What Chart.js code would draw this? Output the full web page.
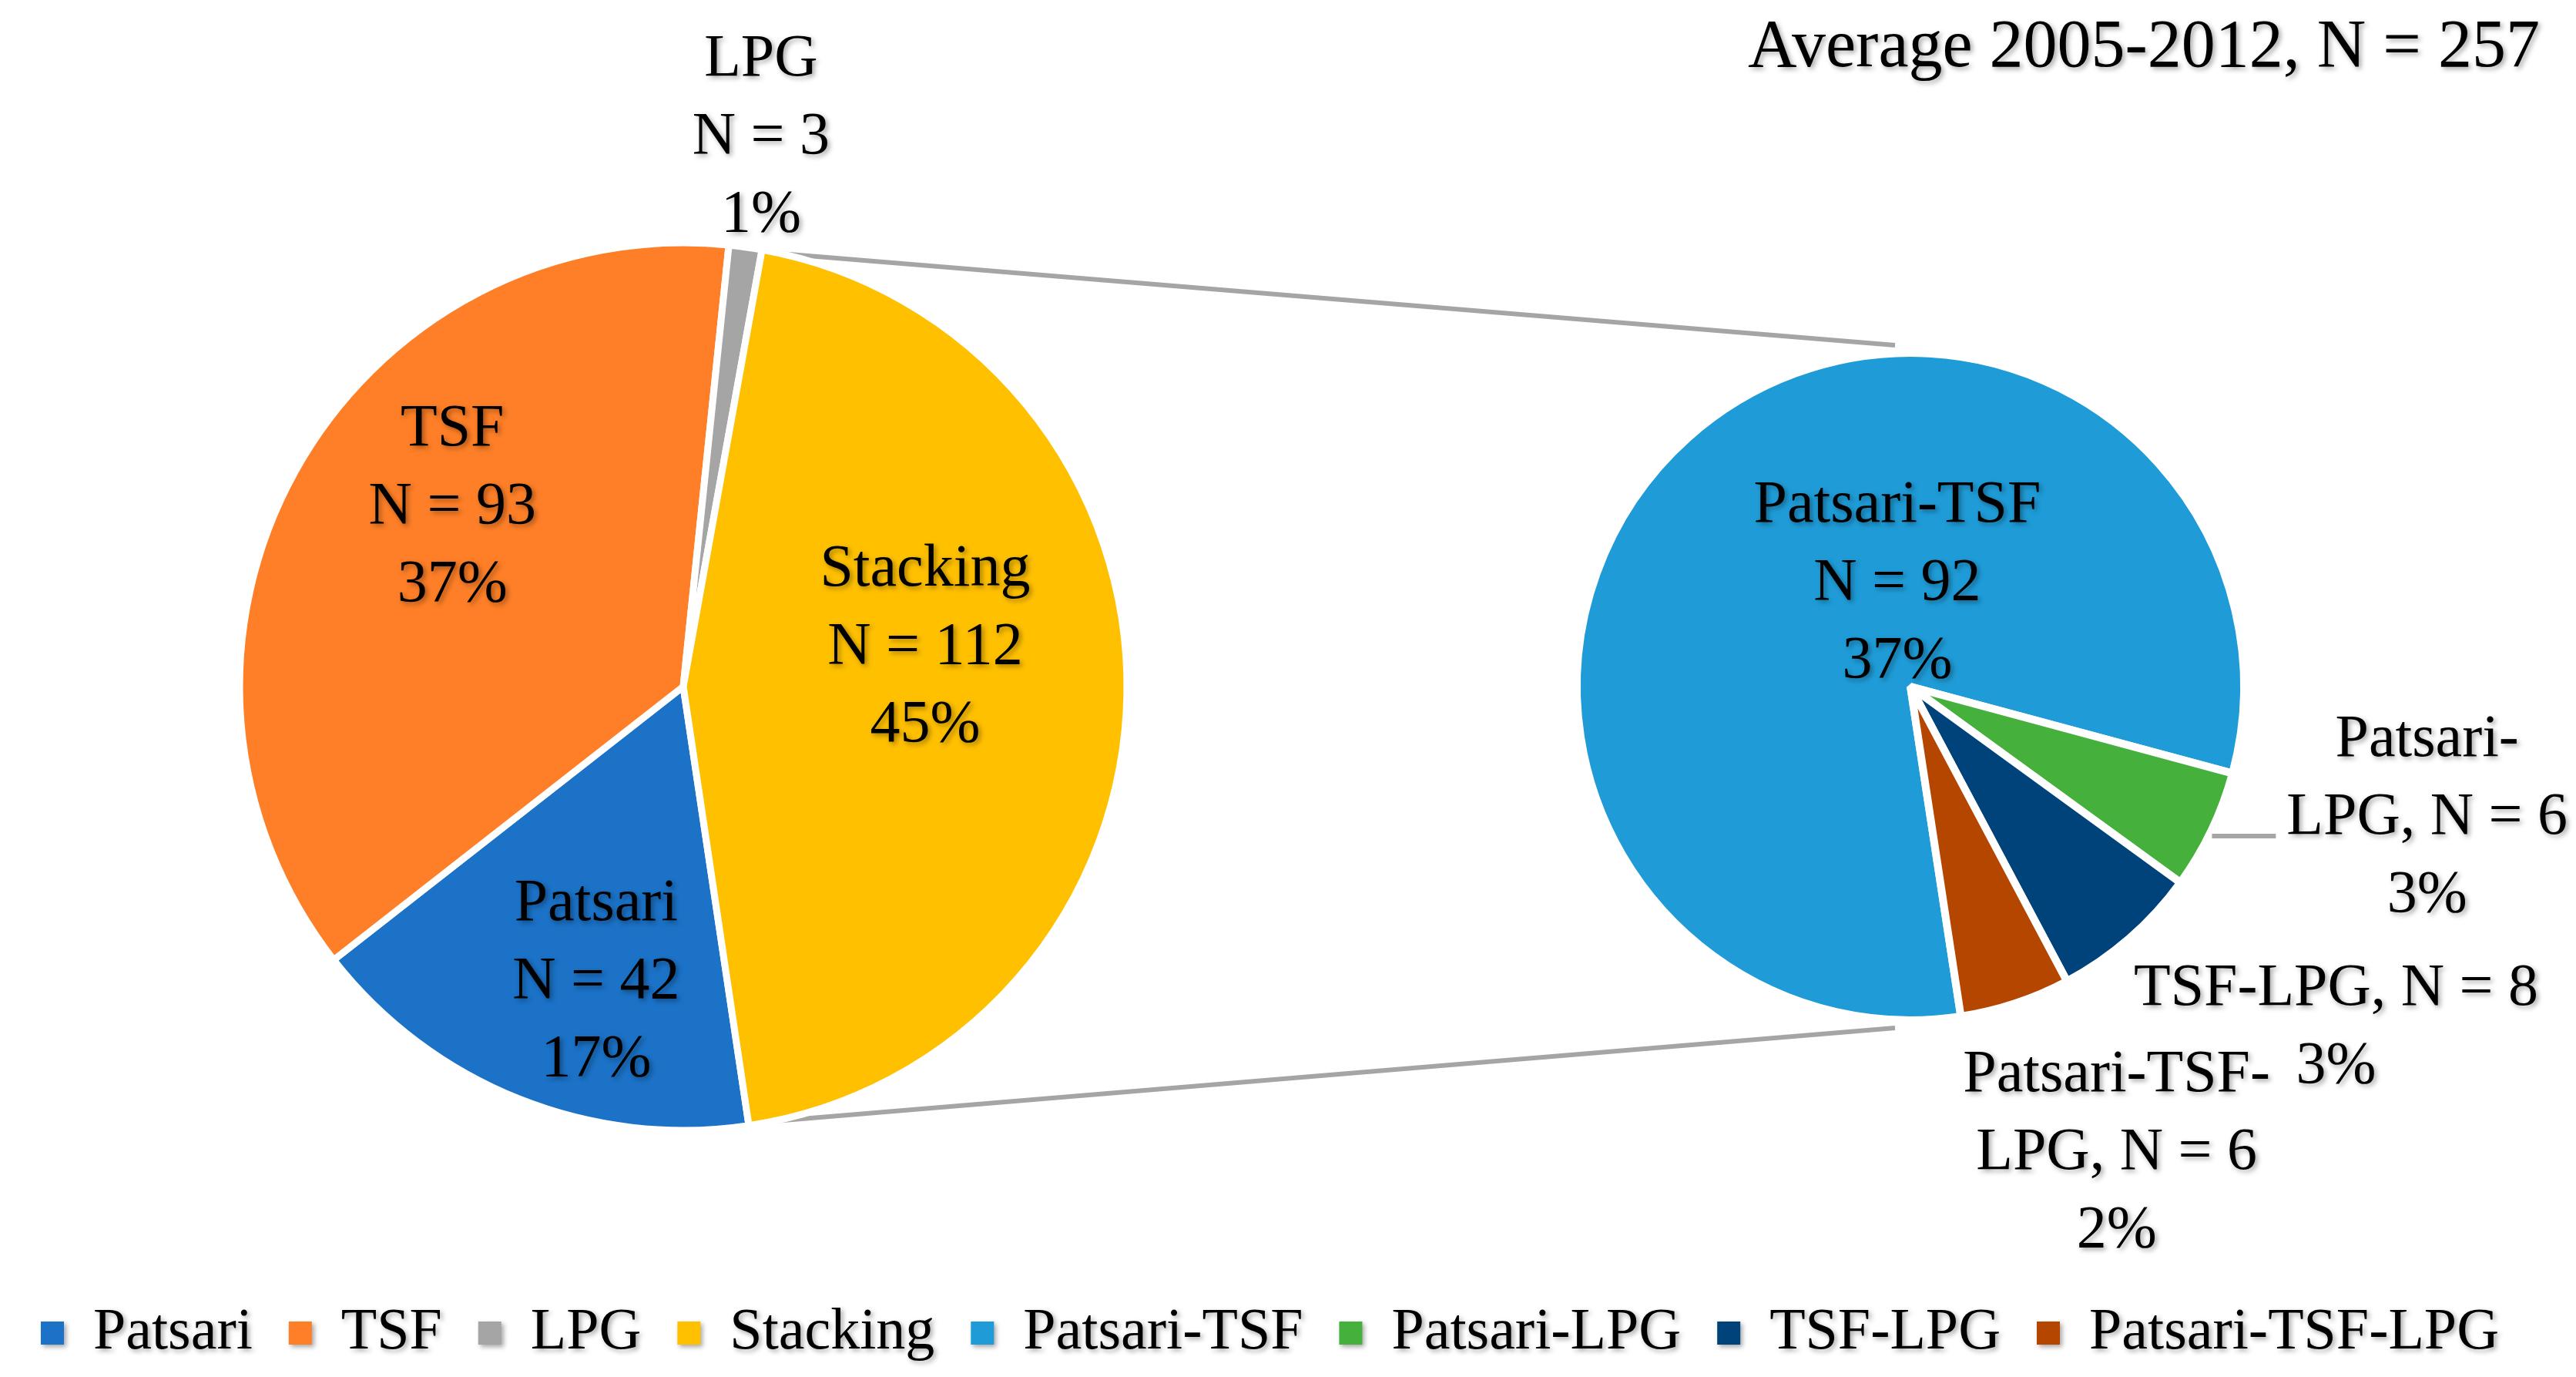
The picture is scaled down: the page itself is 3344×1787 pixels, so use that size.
<!DOCTYPE html>
<html>
<head>
<meta charset="utf-8">
<title>Average 2005-2012, N = 257</title>
<script src="https://cdn.jsdelivr.net/npm/chart.js@4.4.1/dist/chart.umd.min.js"></script>
<style>
    html, body { margin: 0; padding: 0; background: #fff; }
    #wrap { position: relative; width: 3344px; height: 1787px; overflow: hidden; }
    #wrap canvas { position: absolute; left: 0; top: 0; }
</style>
</head>
<body>
<div id="wrap">
    <canvas id="frameChart" width="3344" height="1787"></canvas>
    <canvas id="primaryChart" width="3344" height="1787"></canvas>
    <canvas id="secondaryChart" width="3344" height="1787"></canvas>
</div>
<script>
/**
 * Pie of pie: stove use, average 2005-2012
 */

// Data
const chartTitle = 'Average 2005-2012, N = 257';

const primaryLabels = ['Patsari', 'TSF', 'LPG', 'Stacking'];
const primaryValues = [42, 93, 3, 112];
const primaryPercents = ['17%', '37%', '1%', '45%'];

const secondaryLabels = ['Patsari-TSF', 'Patsari-LPG', 'TSF-LPG', 'Patsari-TSF-LPG'];
const secondaryValues = [91.4, 6.5, 8.1, 6.0];   // slice sizes
const secondaryCounts = [92, 6, 8, 6];
const secondaryPercents = ['37%', '3%', '3%', '2%'];

// Colours
const primaryColors = ['#1B72C7', '#FE7F27', '#A5A5A5', '#FFC000'];
const secondaryColors = ['#1F9CD8', '#45B03B', '#00437A', '#B54600'];
const connectorColor = '#A5A5A5';

// Label placement: angle shift from the slice middle (degrees) and distance (x outer radius)
const primaryPlacement = [
    { shift: -5.3, dist: 0.694 },
    { shift: 8.9, dist: 0.659 },
    { shift: 0, dist: 1.249 },
    { shift: -10, dist: 0.552 }
];
const secondaryPlacement = [
    { shift: 34.5, dist: 0.31 },
    { shift: -11.3, dist: 1.598, leader: true },
    { shift: -10.3, dist: 1.635 },
    { shift: -5.5, dist: 1.529 }
];

const FONT = '"Liberation Serif", "Times New Roman", serif';
Chart.defaults.font.family = FONT;
Chart.defaults.color = '#000';

function setShadow(ctx) {
    ctx.shadowColor = 'rgba(0, 0, 0, 0.35)';
    ctx.shadowBlur = 6;
    ctx.shadowOffsetX = 3;
    ctx.shadowOffsetY = 3;
}

function primaryLines(i) {
    return [primaryLabels[i], 'N = ' + primaryValues[i], primaryPercents[i]];
}

function secondaryLines(i, ctx, place) {
    const nText = 'N = ' + secondaryCounts[i];
    if (place.dist < 1) return [secondaryLabels[i], nText, secondaryPercents[i]];
    // outside labels: one line if it fits, otherwise break after the last hyphen
    const text = secondaryLabels[i] + ', ' + nText;
    if (ctx.measureText(text).width <= 560) return [text, secondaryPercents[i]];
    const cut = secondaryLabels[i].lastIndexOf('-') + 1;
    return [text.slice(0, cut), text.slice(cut), secondaryPercents[i]];
}

// Slice labels
const sliceLabels = {
    id: 'sliceLabels',
    afterDatasetsDraw(chart, args, opts) {
        const ctx = chart.ctx;
        const arcs = chart.getDatasetMeta(0).data;
        const bw = chart.data.datasets[0].borderWidth;
        ctx.save();
        ctx.font = opts.fontSize + 'px ' + FONT;
        ctx.fillStyle = '#000';
        ctx.textAlign = 'center';
        ctx.textBaseline = 'middle';
        arcs.forEach((arc, i) => {
            const place = opts.placement[i];
            const lines = opts.lines(i, ctx, place);
            const mid = (arc.startAngle + arc.endAngle) / 2 + place.shift * Math.PI / 180;
            const px = arc.x + Math.cos(mid) * arc.outerRadius * place.dist;
            const py = arc.y + Math.sin(mid) * arc.outerRadius * place.dist;
            const top = py - (lines.length - 1) / 2 * opts.lineHeight;

            if (place.leader) {
                // short leader line from the slice edge to the second text line
                const ly = top + opts.lineHeight + 24;
                const r = arc.outerRadius - bw / 2;
                const dy = ly - arc.y;
                const x0 = arc.x + Math.sqrt(Math.max(r * r - dy * dy, 0)) + 10;
                const x1 = px - ctx.measureText(lines[1]).width / 2 - 14;
                ctx.strokeStyle = connectorColor;
                ctx.lineWidth = 6;
                ctx.beginPath();
                ctx.moveTo(x0, ly);
                ctx.lineTo(x1, ly);
                ctx.stroke();
            }

            ctx.save();
            setShadow(ctx);
            lines.forEach((t, k) => ctx.fillText(t, px, top + k * opts.lineHeight));
            ctx.restore();
        });
        ctx.restore();
    }
};

// Lines joining the Stacking slice with the second pie, plus text shadow for title/legend
const connectors = {
    id: 'connectors',
    beforeDraw(chart) {
        const ctx = chart.ctx;
        const src = primaryChart.getDatasetMeta(0).data[primaryLabels.indexOf('Stacking')];
        const dst = secondaryChart.getDatasetMeta(0).data[0];
        const r1 = src.outerRadius - 4;
        const ends = [
            [src.startAngle, dst.y - dst.outerRadius - 10],
            [src.endAngle, dst.y + dst.outerRadius + 10]
        ];
        ctx.save();
        ctx.strokeStyle = connectorColor;
        ctx.lineWidth = 6;
        ends.forEach(([angle, yEnd]) => {
            ctx.beginPath();
            ctx.moveTo(src.x + Math.cos(angle) * r1 + 12, src.y + Math.sin(angle) * r1);
            ctx.lineTo(dst.x - 20, yEnd);
            ctx.stroke();
        });
        ctx.restore();

        ctx.save();
        setShadow(ctx);
    },
    afterDraw(chart) {
        chart.ctx.restore();
    }
};

function pieOptions(rotation, radius, padding, placement, lines) {
    return {
        responsive: false,
        animation: false,
        events: [],
        devicePixelRatio: 1,
        rotation: rotation,
        radius: radius,
        layout: { padding: padding },
        plugins: {
            legend: { display: false },
            tooltip: { enabled: false },
            title: { display: false },
            sliceLabels: {
                fontSize: 78,
                lineHeight: 101,
                placement: placement,
                lines: lines
            }
        }
    };
}

// Left pie
const primaryChart = new Chart(document.getElementById('primaryChart'), {
    type: 'pie',
    data: {
        labels: primaryLabels,
        datasets: [{
            data: primaryValues,
            backgroundColor: primaryColors,
            borderColor: '#ffffff',
            borderWidth: 9
        }]
    },
    options: pieOptions(171.5, 576, { left: 0, right: 1570, top: 0, bottom: 5 }, primaryPlacement, primaryLines),
    plugins: [sliceLabels]
});

// Right pie (breakdown of Stacking)
const secondaryChart = new Chart(document.getElementById('secondaryChart'), {
    type: 'pie',
    data: {
        labels: secondaryLabels,
        datasets: [{
            data: secondaryValues,
            backgroundColor: secondaryColors,
            borderColor: '#ffffff',
            borderWidth: 10
        }]
    },
    options: pieOptions(171.3, 433, { left: 1616, right: 0, top: 0, bottom: 5 }, secondaryPlacement, secondaryLines),
    plugins: [sliceLabels]
});

// Frame: title, legend and connector lines
const legendLabels = primaryLabels.concat(secondaryLabels);
const legendColors = primaryColors.concat(secondaryColors);

const frameChart = new Chart(document.getElementById('frameChart'), {
    type: 'pie',
    data: { labels: legendLabels, datasets: [] },
    options: {
        responsive: false,
        animation: false,
        events: [],
        devicePixelRatio: 1,
        layout: { padding: { left: 0, right: 47, top: 0, bottom: 9 } },
        plugins: {
            tooltip: { enabled: false },
            title: {
                display: true,
                text: chartTitle,
                align: 'end',
                color: '#000',
                font: { family: FONT, size: 88, weight: 'normal' },
                padding: { top: 10, bottom: 10 }
            },
            legend: {
                display: true,
                position: 'bottom',
                labels: {
                    color: '#000',
                    font: { family: FONT, size: 76 },
                    boxWidth: 30,
                    boxHeight: 30,
                    padding: 47,
                    generateLabels: () => legendLabels.map((text, i) => ({
                        text: text,
                        fillStyle: legendColors[i],
                        strokeStyle: legendColors[i],
                        lineWidth: 0,
                        hidden: false,
                        index: i
                    }))
                }
            }
        }
    },
    plugins: [connectors]
});
</script>
</body>
</html>
